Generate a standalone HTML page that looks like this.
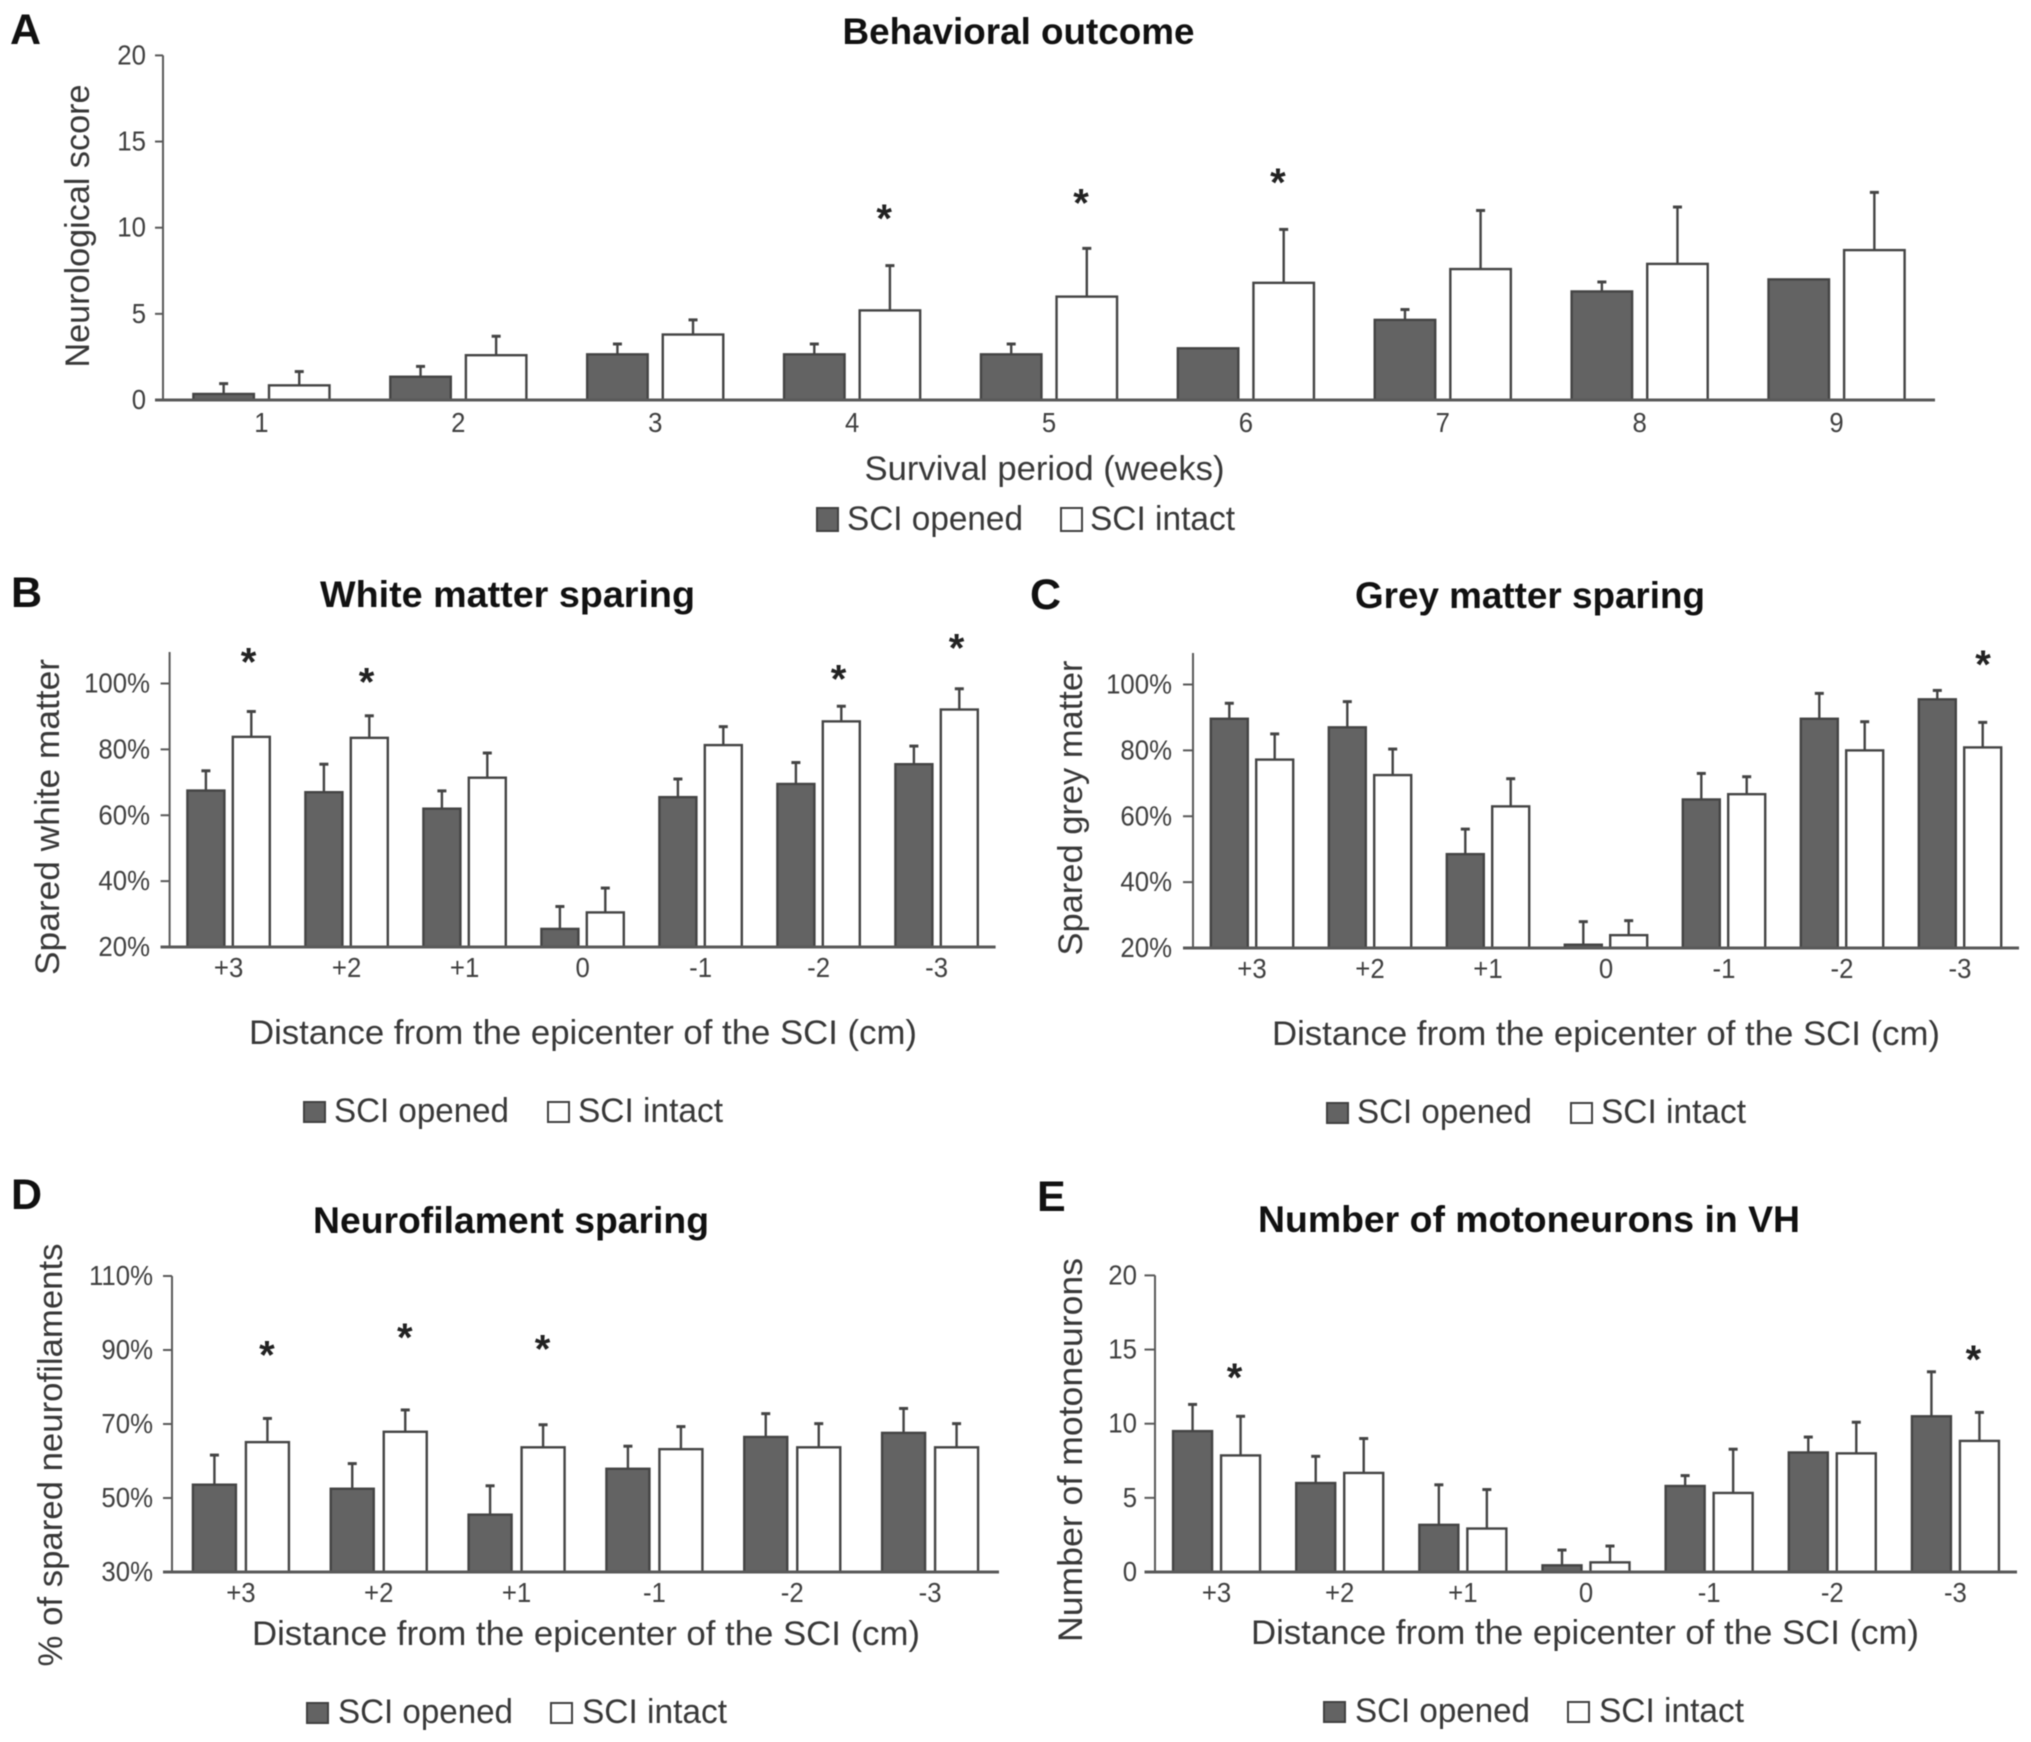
<!DOCTYPE html>
<html lang="en">
<head>
<meta charset="utf-8">
<title>Behavioral and histological outcome charts</title>
<style>
html,body{margin:0;padding:0;background:#fff;}
svg{display:block;font-family:"Liberation Sans",sans-serif;filter:blur(0.45px);}
.tick{font-size:28px;fill:#404040;}
.label{font-size:34px;fill:#383838;}
.title{font-size:37px;font-weight:bold;fill:#111;}
.letter{font-size:43px;font-weight:bold;fill:#111;}
.star{font-size:40px;font-weight:bold;fill:#222;text-anchor:middle;}
</style>
</head>
<body>
<svg id="chart" xmlns="http://www.w3.org/2000/svg" width="2031" height="1742" viewBox="0 0 2031 1742">
  <rect x="0" y="0" width="2031" height="1742" fill="#fff"/>

  <g id="panel-a">
    <text class="letter" x="10" y="44">A</text>
    <text class="title" x="842.5" y="44" textLength="352" lengthAdjust="spacingAndGlyphs">Behavioral outcome</text>
    <text class="label" transform="translate(89,226) rotate(-90)" text-anchor="middle" textLength="283" lengthAdjust="spacingAndGlyphs">Neurological score</text>
    <text class="label" x="864.5" y="480" textLength="360" lengthAdjust="spacingAndGlyphs">Survival period (weeks)</text>
    <rect x="817" y="508" width="21" height="23" fill="#636363" stroke="#404040" stroke-width="2"/>
    <text class="label" x="847" y="530" textLength="176" lengthAdjust="spacingAndGlyphs">SCI opened</text>
    <rect x="1061" y="508" width="21" height="23" fill="#fff" stroke="#404040" stroke-width="2"/>
    <text class="label" x="1090" y="530" textLength="145" lengthAdjust="spacingAndGlyphs">SCI intact</text>
  </g>

  <g id="panel-b">
    <text class="letter" x="11" y="607">B</text>
    <text class="title" x="320" y="607" textLength="375" lengthAdjust="spacingAndGlyphs">White matter sparing</text>
    <text class="label" transform="translate(59,817) rotate(-90)" text-anchor="middle" textLength="316" lengthAdjust="spacingAndGlyphs">Spared white matter</text>
    <text class="label" x="249" y="1044" textLength="668" lengthAdjust="spacingAndGlyphs">Distance from the epicenter of the SCI (cm)</text>
    <rect x="304" y="1102" width="21" height="20" fill="#636363" stroke="#404040" stroke-width="2"/>
    <text class="label" x="334" y="1122" textLength="175" lengthAdjust="spacingAndGlyphs">SCI opened</text>
    <rect x="548" y="1102" width="21" height="20" fill="#fff" stroke="#404040" stroke-width="2"/>
    <text class="label" x="578" y="1122" textLength="145" lengthAdjust="spacingAndGlyphs">SCI intact</text>
  </g>

  <g id="panel-c">
    <text class="letter" x="1030" y="609">C</text>
    <text class="title" x="1355" y="608" textLength="350" lengthAdjust="spacingAndGlyphs">Grey matter sparing</text>
    <text class="label" transform="translate(1082,808) rotate(-90)" text-anchor="middle" textLength="295" lengthAdjust="spacingAndGlyphs">Spared grey matter</text>
    <text class="label" x="1272" y="1045" textLength="668" lengthAdjust="spacingAndGlyphs">Distance from the epicenter of the SCI (cm)</text>
    <rect x="1331" y="1103" width="21" height="20" fill="#636363" stroke="#404040" stroke-width="2" transform="translate(-4,0)"/>
    <text class="label" x="1357" y="1123" textLength="175" lengthAdjust="spacingAndGlyphs">SCI opened</text>
    <rect x="1571" y="1103" width="21" height="20" fill="#fff" stroke="#404040" stroke-width="2"/>
    <text class="label" x="1601" y="1123" textLength="145" lengthAdjust="spacingAndGlyphs">SCI intact</text>
  </g>

  <g id="panel-d">
    <text class="letter" x="11" y="1209">D</text>
    <text class="title" x="313" y="1233" textLength="396" lengthAdjust="spacingAndGlyphs">Neurofilament sparing</text>
    <text class="label" transform="translate(62,1455) rotate(-90)" text-anchor="middle" textLength="423" lengthAdjust="spacingAndGlyphs">% of spared neurofilaments</text>
    <text class="label" x="252" y="1645" textLength="668" lengthAdjust="spacingAndGlyphs">Distance from the epicenter of the SCI (cm)</text>
    <rect x="307" y="1703" width="21" height="20" fill="#636363" stroke="#404040" stroke-width="2"/>
    <text class="label" x="338" y="1723" textLength="175" lengthAdjust="spacingAndGlyphs">SCI opened</text>
    <rect x="551" y="1703" width="21" height="20" fill="#fff" stroke="#404040" stroke-width="2"/>
    <text class="label" x="582" y="1723" textLength="145" lengthAdjust="spacingAndGlyphs">SCI intact</text>
  </g>

  <g id="panel-e">
    <text class="letter" x="1037" y="1211">E</text>
    <text class="title" x="1258" y="1232" textLength="542" lengthAdjust="spacingAndGlyphs">Number of motoneurons in VH</text>
    <text class="label" transform="translate(1082,1450) rotate(-90)" text-anchor="middle" textLength="384" lengthAdjust="spacingAndGlyphs">Number of motoneurons</text>
    <text class="label" x="1251" y="1644" textLength="668" lengthAdjust="spacingAndGlyphs">Distance from the epicenter of the SCI (cm)</text>
    <rect x="1329" y="1702" width="21" height="20" fill="#636363" stroke="#404040" stroke-width="2" transform="translate(-5,0)"/>
    <text class="label" x="1355" y="1722" textLength="175" lengthAdjust="spacingAndGlyphs">SCI opened</text>
    <rect x="1568" y="1702" width="21" height="20" fill="#fff" stroke="#404040" stroke-width="2"/>
    <text class="label" x="1599" y="1722" textLength="145" lengthAdjust="spacingAndGlyphs">SCI intact</text>
  </g>
</svg>

<script>
// Panel A: behavioral outcome
const aCategories = ['1','2','3','4','5','6','7','8','9'];
const aOpened = [0.35,1.35,2.65,2.65,2.65,3,4.65,6.3,7];
const aOpenedErr = [0.6,0.6,0.6,0.6,0.6,0,0.6,0.55,0];
const aIntact = [0.85,2.6,3.8,5.2,6,6.8,7.6,7.9,8.7];
const aIntactErr = [0.8,1.1,0.85,2.6,2.8,3.1,3.4,3.3,3.35];
const aTicks = [0,5,10,15,20];
const aTickLabels = ['0','5','10','15','20'];
const aStarCategories = ['4','5','6'];
const aStarLevels = [10.85,11.75,12.95];

// Panel B: white matter sparing
const bCategories = ['+3','+2','+1','0','-1','-2','-3'];
const bOpened = [67.5,67,62,25.5,65.5,69.5,75.5];
const bOpenedErr = [6,8.5,5.4,6.8,5.5,6.5,5.5];
const bIntact = [83.8,83.5,71.4,30.5,81.3,88.5,92.1];
const bIntactErr = [7.7,6.7,7.5,7.4,5.6,4.6,6.3];
const bTicks = [20,40,60,80,100];
const bTickLabels = ['20%','40%','60%','80%','100%'];
const bStarCategories = ['+3','+2','-2','-3'];
const bStarLevels = [108.2,102.2,103,112.4];

// Panel C: grey matter sparing
const cCategories = ['+3','+2','+1','0','-1','-2','-3'];
const cOpened = [89.6,87,48.5,21,65.1,89.6,95.5];
const cOpenedErr = [4.7,7.8,7.6,7,7.9,7.7,2.7];
const cIntact = [77.2,72.5,63,23.9,66.7,80,80.9];
const cIntactErr = [7.8,7.9,8.4,4.4,5.3,8.7,7.6];
const cTicks = [20,40,60,80,100];
const cTickLabels = ['20%','40%','60%','80%','100%'];
const cStarCategories = ['-3'];
const cStarLevels = [107.8];

// Panel D: neurofilament sparing
const dCategories = ['+3','+2','+1','-1','-2','-3'];
const dOpened = [53.6,52.5,45.5,57.9,66.5,67.6];
const dOpenedErr = [8,6.8,7.8,6.1,6.3,6.6];
const dIntact = [65.1,67.9,63.7,63.2,63.7,63.7];
const dIntactErr = [6.4,5.9,6.1,6.1,6.4,6.4];
const dTicks = [30,50,70,90,110];
const dTickLabels = ['30%','50%','70%','90%','110%'];
const dStarCategories = ['+3','+2','+1'];
const dStarLevels = [90.2,94.9,91.7];

// Panel E: number of motoneurons
const eCategories = ['+3','+2','+1','0','-1','-2','-3'];
const eOpened = [9.5,6,3.18,0.45,5.8,8.06,10.5];
const eOpenedErr = [1.8,1.8,2.7,1.03,0.7,1.04,3];
const eIntact = [7.86,6.68,2.93,0.65,5.33,8,8.84];
const eIntactErr = [2.64,2.32,2.63,1.1,2.95,2.1,1.92];
const eTicks = [0,5,10,15,20];
const eTickLabels = ['0','5','10','15','20'];
const eStarCategories = ['+3','-3'];
const eStarLevels = [13.5,14.7];

const NS = 'http://www.w3.org/2000/svg';
const INK = '#444444';
const DARK = '#636363';
const AXIS = '#595959';

function make(parent, tag, attrs, text) {
  const el = document.createElementNS(NS, tag);
  for (const k in attrs) el.setAttribute(k, attrs[k]);
  if (text !== undefined) el.textContent = text;
  parent.appendChild(el);
  return el;
}

function condense(el) {
  const w = el.getComputedTextLength();
  el.setAttribute('textLength', (w * 0.92).toFixed(1));
  el.setAttribute('lengthAdjust', 'spacingAndGlyphs');
}

function drawBarChart(cfg) {
  const root = document.getElementById(cfg.id);
  const yScale = v => cfg.y0 + (v - cfg.vMin) / (cfg.vMax - cfg.vMin) * (cfg.y1 - cfg.y0);
  const band = (cfg.xEnd - cfg.xAxis) / cfg.categories.length;
  const xCenter = i => cfg.xAxis + band * (i + 0.5);
  const base = yScale(cfg.vMin);

  function drawError(g, x, value, err) {
    if (!(err > 0)) return;
    const top = yScale(value + err);
    const stem = make(g, 'line', {x1:x, x2:x, y1:yScale(value), y2:top, stroke:INK, 'stroke-width':2.4});
    
    
    const cap = make(g, 'line', {x1:x-4.5, x2:x+4.5, y1:top, y2:top, stroke:INK, 'stroke-width':3});
    
    
  }

  cfg.categories.forEach((cat, i) => {
    const c = xCenter(i);
    const g = make(root, 'g', {});
    
    

    const xo = c - cfg.offset;
    const xi = c + cfg.offset;
    drawError(g, xo, cfg.opened[i], cfg.openedErr[i]);
    drawError(g, xi, cfg.intact[i], cfg.intactErr[i]);

    const topO = yScale(cfg.opened[i]);
    const barO = make(g, 'rect', {x:xo-cfg.barW/2, y:topO, width:cfg.barW, height:Math.max(0, base-topO), fill:DARK, stroke:INK, 'stroke-width':2.4});
    
    

    const topI = yScale(cfg.intact[i]);
    const barI = make(g, 'rect', {x:xi-cfg.barW/2, y:topI, width:cfg.barW, height:Math.max(0, base-topI), fill:'#fff', stroke:INK, 'stroke-width':2.4});
    
    

    const lab = make(g, 'text', {class:'tick', x:c, y:cfg.catLabelY, 'text-anchor':'middle'}, cat);
    
    
    condense(lab);
  });

  const yAxis = make(root, 'line', {x1:cfg.xAxis, x2:cfg.xAxis, y1:cfg.axisTop, y2:base, stroke:AXIS, 'stroke-width':2});
  
  
  const xAxis = make(root, 'line', {x1:cfg.xAxis-cfg.tickLen, x2:cfg.xEnd, y1:base, y2:base, stroke:AXIS, 'stroke-width':3});
  
  

  cfg.ticks.forEach((t, i) => {
    const y = yScale(t);
    const tick = make(root, 'line', {x1:cfg.xAxis-cfg.tickLen, x2:cfg.xAxis, y1:y, y2:y, stroke:AXIS, 'stroke-width':2});
    
    
    const lab = make(root, 'text', {class:'tick', x:cfg.tickRight, y:y+9, 'text-anchor':'end'}, cfg.tickLabels[i]);
    
    
    condense(lab);
  });

  cfg.starCategories.forEach((cat, i) => {
    const idx = cfg.categories.indexOf(cat);
    const star = make(root, 'text', {class:'star', x:xCenter(idx)+cfg.starDx, y:yScale(cfg.starLevels[i])+19}, '*');
    
    
  });
}

drawBarChart({id:'panel-a', categories:aCategories, opened:aOpened, openedErr:aOpenedErr, intact:aIntact, intactErr:aIntactErr,
  ticks:aTicks, tickLabels:aTickLabels, starCategories:aStarCategories, starLevels:aStarLevels,
  vMin:0, vMax:20, y0:400, y1:55.4, axisTop:55.4, xAxis:163, xEnd:1935, tickLen:8, tickRight:146,
  barW:60.5, offset:37.8, catLabelY:432, starDx:32});
drawBarChart({id:'panel-b', categories:bCategories, opened:bOpened, openedErr:bOpenedErr, intact:bIntact, intactErr:bIntactErr,
  ticks:bTicks, tickLabels:bTickLabels, starCategories:bStarCategories, starLevels:bStarLevels,
  vMin:20, vMax:100, y0:947, y1:683.5, axisTop:652, xAxis:169.6, xEnd:995.6, tickLen:9, tickRight:150,
  barW:37, offset:22.7, catLabelY:977, starDx:20});
drawBarChart({id:'panel-c', categories:cCategories, opened:cOpened, openedErr:cOpenedErr, intact:cIntact, intactErr:cIntactErr,
  ticks:cTicks, tickLabels:cTickLabels, starCategories:cStarCategories, starLevels:cStarLevels,
  vMin:20, vMax:100, y0:948, y1:684.5, axisTop:653, xAxis:1193, xEnd:2019, tickLen:10, tickRight:1172,
  barW:37, offset:22.7, catLabelY:978, starDx:23});
drawBarChart({id:'panel-d', categories:dCategories, opened:dOpened, openedErr:dOpenedErr, intact:dIntact, intactErr:dIntactErr,
  ticks:dTicks, tickLabels:dTickLabels, starCategories:dStarCategories, starLevels:dStarLevels,
  vMin:30, vMax:110, y0:1572, y1:1276, axisTop:1276, xAxis:172, xEnd:999, tickLen:9, tickRight:153,
  barW:43, offset:26.5, catLabelY:1602, starDx:26});
drawBarChart({id:'panel-e', categories:eCategories, opened:eOpened, openedErr:eOpenedErr, intact:eIntact, intactErr:eIntactErr,
  ticks:eTicks, tickLabels:eTickLabels, starCategories:eStarCategories, starLevels:eStarLevels,
  vMin:0, vMax:20, y0:1572, y1:1275.4, axisTop:1275.4, xAxis:1155, xEnd:2017, tickLen:10.5, tickRight:1137,
  barW:39, offset:24, catLabelY:1602, starDx:18});
</script>
</body>
</html>
